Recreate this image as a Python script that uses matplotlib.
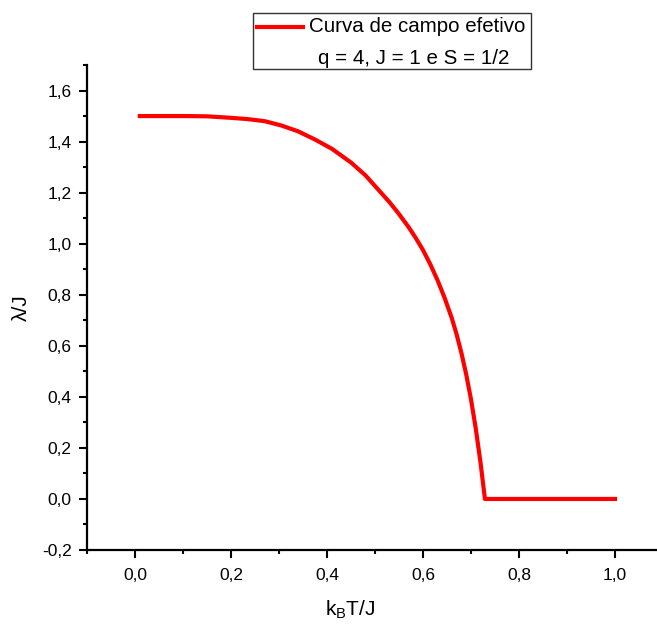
#!/usr/bin/python3
# coding : utf-8
# curva de campo efetivo lambda/J vs k_B T/J

import matplotlib
matplotlib.use("Agg")
import matplotlib.pyplot as plt
from matplotlib.ticker import MultipleLocator, FuncFormatter
from matplotlib.lines import Line2D
from matplotlib.patches import Rectangle

plt.rcParams['font.family'] = ['Liberation Sans', 'DejaVu Sans']

# valores
kT = [0.01, 0.10, 0.15, 0.20, 0.235, 0.27, 0.305, 0.34, 0.375, 0.41, 0.45, 0.48,
      0.53, 0.55, 0.57, 0.585, 0.60, 0.615, 0.63, 0.645, 0.66, 0.67, 0.68,
      0.69, 0.70, 0.71, 0.72, 0.729, 0.80, 0.90, 1.00]
lam = [1.500, 1.500, 1.499, 1.493, 1.488, 1.480, 1.463, 1.440, 1.408, 1.372, 1.318, 1.268,
       1.163, 1.116, 1.065, 1.022, 0.975, 0.920, 0.858, 0.788, 0.708, 0.645, 0.572,
       0.488, 0.390, 0.275, 0.140, 0.0, 0.0, 0.0, 0.0]

legend_line1 = "Curva de campo efetivo"
legend_line2 = "q = 4, J = 1 e S = 1/2"
xlabel = r"k$_\mathregular{B}$T/J"
ylabel = "λ/J"

W, H = 657, 624
fig = plt.figure(figsize=(W / 100, H / 100), dpi=100)
# the right part of the frame runs past the picture, as in the original
ax = fig.add_axes([87 / W, 1 - 550 / H, 576 / W, (550 - 65) / H])

ax.plot(kT, lam, color="red", lw=3, solid_joinstyle="round")

ax.set_xlim(-0.1, 1.1)
ax.set_ylim(-0.2, 1.7)
ax.xaxis.set_major_locator(MultipleLocator(0.2))
ax.xaxis.set_minor_locator(MultipleLocator(0.1))
ax.yaxis.set_major_locator(MultipleLocator(0.2))
ax.yaxis.set_minor_locator(MultipleLocator(0.1))

comma = FuncFormatter(lambda v, p: ("%.1f" % v).replace(".", ",").replace("-0,0", "0,0"))
ax.xaxis.set_major_formatter(comma)
ax.yaxis.set_major_formatter(comma)
ax.set_xticks([0.0, 0.2, 0.4, 0.6, 0.8, 1.0])

for s in ["top", "right"]:
    ax.spines[s].set_visible(False)
for s in ["left", "bottom"]:
    ax.spines[s].set_linewidth(1.6)

ax.tick_params(which="major", direction="out", length=6, width=1.5, labelsize=12.5, pad=5)
ax.tick_params(which="minor", direction="out", length=3.2, width=1.5)
ax.tick_params(axis="x", which="major", pad=7)

ax.set_xlabel(xlabel, fontsize=15)
ax.xaxis.set_label_coords((350 - 87) / 576, -(598 - 550) / 485)
ax.set_ylabel(ylabel, fontsize=15, labelpad=8)

# legenda desenhada a mao
fig.patches.append(Rectangle((253 / W, 1 - 69 / H), (531 - 253) / W, (69 - 13) / H,
                             transform=fig.transFigure, facecolor="white",
                             edgecolor="#333333", lw=1.0, zorder=5))
fig.lines.append(Line2D([257 / W, 303 / W], [1 - 27 / H, 1 - 27 / H],
                        transform=fig.transFigure, color="red", lw=3, zorder=6))
fig.text(309 / W, 1 - 27 / H, legend_line1, fontsize=14.8, va="center", ha="left", zorder=6)
fig.text(318 / W, 1 - 59 / H, legend_line2, fontsize=14.8, va="center", ha="left", zorder=6)

fig.savefig("out.png", dpi=100)
